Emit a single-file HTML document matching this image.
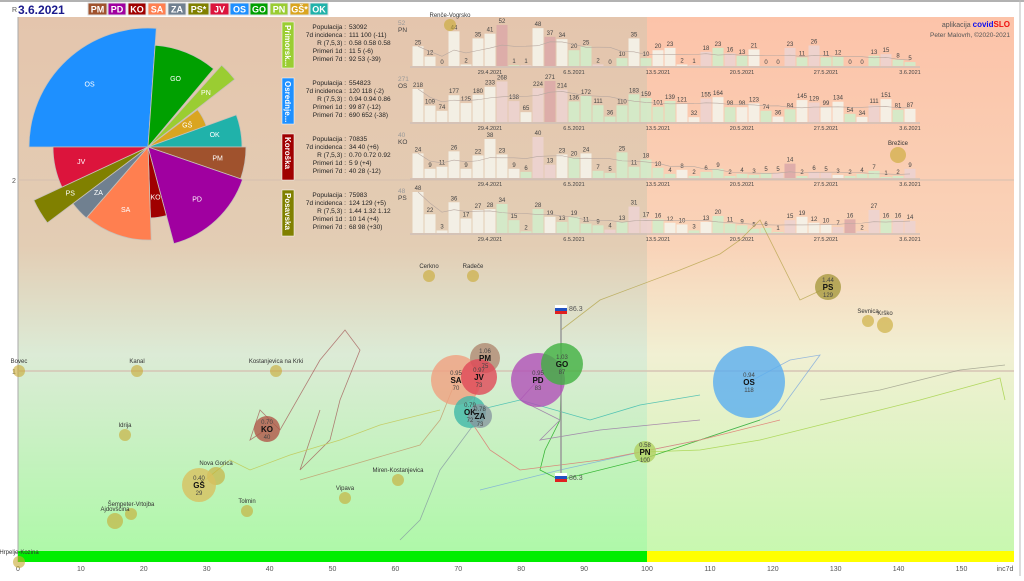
<!DOCTYPE html>
<html><head><meta charset="utf-8">
<style>
html,body{margin:0;padding:0;background:#fff;}
body{width:1024px;height:576px;overflow:hidden;font-family:"Liberation Sans",sans-serif;}
svg text{font-family:"Liberation Sans","DejaVu Sans",sans-serif;}
</style></head><body>
<svg id="s" width="1024" height="576" viewBox="0 0 1024 576" xmlns="http://www.w3.org/2000/svg">
<defs>
<linearGradient id="gl" x1="0" y1="0" x2="0" y2="1">
<stop offset="0" stop-color="#e4c5ad"/><stop offset="0.42" stop-color="#e3cdb4"/>
<stop offset="0.62" stop-color="#dcebd6"/><stop offset="1" stop-color="#acf9a6"/></linearGradient>
<linearGradient id="gr" x1="0" y1="0" x2="0" y2="1">
<stop offset="0" stop-color="#fcc3a9"/><stop offset="0.42" stop-color="#f9d3b8"/>
<stop offset="0.62" stop-color="#f1f0d3"/><stop offset="1" stop-color="#c6f8ae"/></linearGradient>
</defs>
<rect x="0" y="0" width="1024" height="576" fill="#fff"/>
<line x1="0" y1="1" x2="1024" y2="1" stroke="#999" stroke-width="1.5"/>
<line x1="1020" y1="0" x2="1020" y2="576" stroke="#bbb"/>
<rect x="18" y="17" width="629" height="545" fill="url(#gl)"/>
<rect x="647" y="17" width="367" height="545" fill="url(#gr)"/>
<line x1="18" y1="17" x2="18" y2="562" stroke="#aaa"/>
<line x1="18" y1="180" x2="1014" y2="180" stroke="#d4bfb0" stroke-width="1"/>
<line x1="18" y1="371" x2="1014" y2="371" stroke="#d6c4b4" stroke-width="1.5"/>
<rect x="18" y="551" width="629" height="11" fill="#00ee00"/>
<rect x="647" y="551" width="367" height="11" fill="#ffff00"/>
<g font-size="7" fill="#555">
<text x="12" y="12">R</text><text x="12" y="183">2</text><text x="12" y="374">1</text>
</g>
<g id="xt" font-size="7" fill="#555" text-anchor="middle"></g>
<text x="1005" y="571" font-size="7" fill="#555" text-anchor="middle">inc7d</text>

<text x="18" y="14" font-size="12" font-weight="bold" fill="#1a1a8c">3.6.2021</text>
<g id="leg" font-size="9" font-weight="bold" fill="#fff" text-anchor="middle"></g>

<g id="pie" stroke="#c8c0b8" stroke-width="0.8"></g>

<g id="pan"></g>
<text x="1010" y="27" font-size="7" fill="#555" text-anchor="end">aplikacija <tspan fill="#1010ee" font-weight="bold" font-size="8">covid</tspan><tspan fill="#ee1010" font-weight="bold" font-size="8">SLO</tspan></text>
<text x="1010" y="37" font-size="6.5" fill="#555" text-anchor="end">Peter Malovrh, ©2020-2021</text>

<g fill="none" stroke-width="0.8" opacity="0.7">
<polyline stroke="#b0a040" points="561,330 600,300 680,270 720,254 740,240 760,220 800,300 828,287"/>
<polyline stroke="#a05050" points="267,429 250,440 260,410 280,430 320,360 345,330 360,350 340,400 330,440 300,470 320,410"/>
<polyline stroke="#70a0e0" points="749,382 790,360 820,355 780,410 760,420 700,440 650,450 560,470 480,490"/>
<polyline stroke="#9acd32" points="645,452 700,450 760,440 880,410 920,400 1000,378 1005,400"/>
<polyline stroke="#c0c040" points="199,485 230,460 250,470 290,455 340,440 380,425 440,410"/>
<polyline stroke="#00a000" points="562,364 560,420 545,450 540,470 560,480 640,460 760,420"/>
<polyline stroke="#e06060" points="479,377 470,420 490,450 520,470 600,460 700,440 780,420"/>
<polyline stroke="#9060a0" points="538,380 520,400 560,420 540,440 600,430 700,420"/>
<polyline stroke="#20b2aa" points="470,412 520,400 590,420 640,405 700,395"/>
<polyline stroke="#8090a0" points="480,416 440,470 420,520 400,540"/>
<polyline stroke="#c09060" points="456,380 440,420 420,445 300,480"/>
<polyline stroke="#909080" points="820,400 880,390 960,370 1005,365"/>
</g>
<line x1="561" y1="310" x2="561" y2="476" stroke="#999" stroke-width="1.5"/>
<g font-size="7" fill="#555">
<rect x="555" y="305" width="12" height="3" fill="#fff"/><rect x="555" y="308" width="12" height="3" fill="#2050c0"/><rect x="555" y="311" width="12" height="3" fill="#e02020"/>
<text x="569" y="311">86.3</text>
<rect x="555" y="473" width="12" height="3" fill="#fff"/><rect x="555" y="476" width="12" height="3" fill="#2050c0"/><rect x="555" y="479" width="12" height="3" fill="#e02020"/>
<text x="569" y="480">86.3</text>
</g>

<g id="mun" font-size="6" fill="#333" text-anchor="middle"></g>
<g id="bub" text-anchor="middle"></g>
</svg>
<script>
var S=document.getElementById('s'),NS='http://www.w3.org/2000/svg';
function el(p,t,a,txt){var e=document.createElementNS(NS,t);for(var k in a)e.setAttribute(k,a[k]);if(txt!=null)e.textContent=txt;p.appendChild(e);return e;}
var xt=document.getElementById('xt');
for(var i=0;i<=150;i+=10){el(xt,'text',{x:18+i*6.29,y:571},i===0?'0':String(i));}
var L=[['PM','#a0522d',88,19],['PD','#a000a0',108,18],['KO','#a00000',128,18],['SA','#ff7f50',148,18],['ZA','#708090',168,18],['PS*','#808000',188,21],['JV','#dc143c',210,19],['OS','#1e90ff',230,19],['GO','#00a000',250,18],['PN','#9acd32',270,18],['GŠ*','#daa520',290,19],['OK','#20b2aa',310,18]];
var lg=document.getElementById('leg');
L.forEach(function(l){el(lg,'rect',{x:l[2],y:3,width:l[3],height:12,fill:l[1],stroke:'#ddd'});el(lg,'text',{x:l[2]+l[3]/2,y:12.5},l[0]);});
var cx=148,cy=147,pie=document.getElementById('pie');
var P=[['OS','#1e90ff',180,274,119],['GO','#00a000',274,310,102],['PN','#9acd32',312,322,110],['GŠ','#daa520',323,340,62],['OK','#20b2aa',340,360,94],['PM','#a0522d',0,19,98],['PD','#a000a0',19,75,100],['KO','#a00000',75,88,71],['SA','#ff7f50',88,131,93],['ZA','#708090',131,143,94],['PS','#808000',143,155,126],['JV','#dc143c',155,180,95]];
P.forEach(function(p){var a1=p[2]*Math.PI/180,a2=p[3]*Math.PI/180,r=p[4];
var d='M'+cx+','+cy+'L'+(cx+r*Math.cos(a1))+','+(cy+r*Math.sin(a1))+'A'+r+','+r+' 0 0 1 '+(cx+r*Math.cos(a2))+','+(cy+r*Math.sin(a2))+'Z';
el(pie,'path',{d:d,fill:p[1]});var am=(a1+a2)/2,rr=r*0.72;
el(pie,'text',{x:cx+rr*Math.cos(am),y:cy+rr*Math.sin(am)+2,'font-size':7,fill:'#fff','text-anchor':'middle',stroke:'none'},p[0]);});
var pan=document.getElementById('pan');
var R=[
{n:'Primorsk...',c:'#9acd32',code:'PN',max:52,y0:20,base:66,st:['53092','111 100 (-11)','0.58 0.58 0.58','11 5 (-6)','92 53 (-39)'],
v:[25,12,0,44,2,35,41,52,1,1,48,37,34,20,25,2,0,10,35,10,20,23,2,1,18,23,16,13,21,0,0,23,11,26,11,12,0,0,13,15,8,5]},
{n:'Osrednje...',c:'#1e90ff',code:'OS',max:271,y0:76,base:122,st:['554823','120 118 (-2)','0.94 0.94 0.86','99 87 (-12)','690 652 (-38)'],
v:[218,109,74,177,125,180,233,268,138,65,224,271,214,136,172,111,36,110,183,159,101,139,121,32,155,164,98,98,123,74,36,84,145,129,99,134,54,34,111,151,81,87]},
{n:'Koroška',c:'#a00000',code:'KO',max:40,y0:132,base:178,st:['70835','34 40 (+6)','0.70 0.72 0.92','5 9 (+4)','40 28 (-12)'],
v:[24,9,11,26,9,22,38,23,9,6,40,13,23,20,24,7,5,25,11,18,10,4,8,2,6,9,2,4,3,5,5,14,2,6,5,3,2,4,7,1,2,9]},
{n:'Posavska',c:'#808000',code:'PS',max:48,y0:188,base:233,st:['75983','124 129 (+5)','1.44 1.32 1.12','10 14 (+4)','68 98 (+30)'],
v:[48,22,3,36,17,27,28,34,15,2,28,19,13,19,11,9,4,13,31,17,16,12,10,3,13,20,11,9,5,6,1,15,19,12,10,7,16,2,27,16,16,14]}
];
var labs=['Populacija','7d incidenca','R (7,5,3)','Primeri 1d','Primeri 7d'];
var dates=[['29.4.2021',6],['6.5.2021',13],['13.5.2021',20],['20.5.2021',27],['27.5.2021',34],['3.6.2021',41]];
R.forEach(function(r){
 el(pan,'rect',{x:282,y:r.y0+2,width:12,height:46,fill:r.c,stroke:'#fff','stroke-width':0.5});
 el(pan,'text',{x:285,y:r.y0+5,'font-size':8,'font-weight':'bold',fill:'#fff',transform:'rotate(90 285 '+(r.y0+5)+')'},r.n);
 for(var i=0;i<5;i++){var yy=r.y0+9+i*8;
  el(pan,'text',{x:346,y:yy,'font-size':6.5,fill:'#222','text-anchor':'end'},labs[i]+' :');
  el(pan,'text',{x:349,y:yy,'font-size':6.5,fill:'#222'},r.st[i]);}
 el(pan,'text',{x:398,y:r.y0+12,'font-size':6.5,fill:'#444'},r.code);
 el(pan,'text',{x:398,y:r.y0+5,'font-size':6.5,fill:'#999'},String(r.max));
 el(pan,'line',{x1:410,y1:r.base+1,x2:920,y2:r.base+1,stroke:'#d0c0b8','stroke-width':1.5});
 var pts=[];
 r.v.forEach(function(v,i){var h=v/r.max*41,x=412+i*12;
  var prev=i>=7?r.v[i-7]:v;var f=v<prev*0.85?'#d2ecca':(v>prev*1.15?'#ecd3d0':'#f4f3ea');
  if(i>=7&&v>prev*1.8&&v>10)f='#dcaaa8';
  el(pan,'rect',{x:x+0.5,y:r.base-h,width:11,height:h,fill:f,opacity:0.9});
  el(pan,'text',{x:x+6,y:r.base-h-2,'font-size':6,fill:'#444','text-anchor':'middle'},String(v));
  var s=0,n=0;for(var k=Math.max(0,i-6);k<=i;k++){s+=r.v[k];n++;}pts.push((x+6)+','+(r.base-s/n/r.max*41));
 });
 el(pan,'polyline',{points:pts.join(' '),fill:'none',stroke:'#b8a8a0','stroke-width':0.6});
 dates.forEach(function(d){el(pan,'text',{x:412+d[1]*12+6,y:r.base+8,'font-size':5.5,fill:'#444','text-anchor':'middle'},d[0]);});
});
var mun=document.getElementById('mun');
var M=[['Cerkno',429,276],['Radeče',473,276],['Bovec',19,371],['Kanal',137,371],['Kostanjevica na Krki',276,371],['Idrija',125,435],['Nova Gorica',216,476],['Tolmin',247,511],['Vipava',345,498],['Miren-Kostanjevica',398,480],['Šempeter-Vrtojba',131,514],['Ajdovščina',115,521],['Sevnica',868,321],['Krško',885,325],['Brežice',898,155],['Renče-Vogrsko',450,25],['Hrpelje-Kozina',19,562]];
M.forEach(function(m){var r=m[0]=='Ajdovščina'||m[0]=='Krško'?8:(m[0]=='Nova Gorica'?9:6);if(m[0]=='Brežice')r=8;
 el(mun,'circle',{cx:m[1],cy:m[2],r:r,fill:'#c8a830',opacity:0.6});
 el(mun,'text',{x:m[1],y:m[2]-r-2},m[0]);});
var bub=document.getElementById('bub');
var B=[['OS','#5aaef0',749,382,36,'0.94','118'],['PS','#a89a40',828,287,13,'1.44','129'],['PN','#b0d060',645,452,11,'0.58','100'],
['SA','#f0a080',456,380,25,'0.95','70'],['PD','#b050b8',538,380,27,'0.95','83'],['GO','#40b040',562,364,21,'1.03','87'],
['PM','#b08870',485,358,15,'1.06','75'],['JV','#e04858',479,377,18,'0.97','73'],['OK','#40b8a8',470,412,16,'0.79','72'],['ZA','#8898a0',480,416,12,'0.78','73'],
['KO','#b05848',267,429,13,'0.70','40'],['GŠ','#d8c060',199,485,17,'0.40','29']];
B.forEach(function(b){el(bub,'circle',{cx:b[2],cy:b[3],r:b[4],fill:b[1],opacity:0.8});});
B.forEach(function(b){el(bub,'text',{x:b[2],y:b[3]-5,'font-size':6,fill:'#444'},b[5]);
 el(bub,'text',{x:b[2],y:b[3]+3,'font-size':8,'font-weight':'bold',fill:'#111'},b[0]);
 el(bub,'text',{x:b[2],y:b[3]+10,'font-size':6,fill:'#444'},b[6]);});
</script>
</body></html>
